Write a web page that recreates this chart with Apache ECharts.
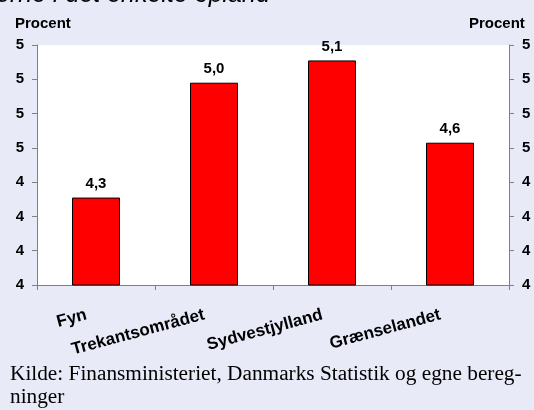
<!DOCTYPE html>
<html>
<head>
<meta charset="utf-8">
<script src="https://cdn.jsdelivr.net/npm/echarts@6/dist/echarts.min.js"></script>
<style>
  html, body { margin: 0; padding: 0; background: #e8eaf8; }
  #chart { width: 534px; height: 410px; }
</style>
</head>
<body>
<div id="chart"></div>
<script>
// data
const regions = ["Fyn", "Trekantsområdet", "Sydvestjylland", "Grænselandet"];
const rates = [4.31, 4.98, 5.11, 4.63];
const yTickLabels = ["4", "4", "4", "4", "5", "5", "5", "5"];
const yMin = 3.8;
const yMax = 5.2;
const yStep = 0.2;

const chart = echarts.init(document.getElementById("chart"));
const labelFont = { fontFamily: "Liberation Sans, Arial, sans-serif", fontWeight: "bold", fontSize: 15, color: "#000" };

const yAxisBase = {
  type: "value",
  min: yMin,
  max: yMax,
  interval: yStep,
  splitLine: { show: false },
  axisLine: { show: true, lineStyle: { color: "#808080", width: 1 } },
  axisTick: { show: true, inside: false, length: 5, lineStyle: { color: "#808080" } },
};

const option = {
  backgroundColor: "#e8eaf8",
  animation: false,
  graphic: [
    {
      type: "text",
      left: -4,
      top: -17,
      style: {
        text: "erne i det enkelte opland",
        font: "italic 25px Liberation Sans, Arial, sans-serif",
        fill: "#000",
      },
    },
    { type: "text", left: 15, top: 16, style: { text: "Procent", font: "bold 15px Liberation Sans, Arial, sans-serif", fill: "#000" } },
    { type: "text", left: 469, top: 16, style: { text: "Procent", font: "bold 15px Liberation Sans, Arial, sans-serif", fill: "#000" } },
    {
      type: "text",
      left: 10,
      top: 363,
      style: {
        text: "Kilde: Finansministeriet, Danmarks Statistik og egne bereg-\nninger",
        font: "21.3px Liberation Serif, Times New Roman, serif",
        lineHeight: 23,
        fill: "#000",
      },
    },
  ],
  grid: {
    left: 37,
    right: 25,
    top: 45,
    bottom: 125,
    show: true,
    backgroundColor: "#fff",
    borderWidth: 0,
  },
  xAxis: {
    type: "category",
    data: regions,
    boundaryGap: true,
    axisLine: { lineStyle: { color: "#808080", width: 1 } },
    axisTick: { show: true, alignWithLabel: false, length: 5, lineStyle: { color: "#808080" } },
    axisLabel: Object.assign({}, labelFont, { fontSize: 17, rotate: 15, margin: 27, interval: 0, padding: [0, 10, 0, 0] }),
  },
  yAxis: [
    Object.assign({}, yAxisBase, {
      position: "left",
      axisLabel: Object.assign({}, labelFont, { margin: 13, formatter: (v, i) => yTickLabels[i] }),
    }),
    Object.assign({}, yAxisBase, {
      position: "right",
      axisLabel: Object.assign({}, labelFont, { margin: 13, formatter: (v, i) => yTickLabels[i] }),
    }),
  ],
  series: [
    {
      type: "bar",
      data: rates,
      barWidth: 48,
      itemStyle: { color: "#ff0000", borderColor: "#000", borderWidth: 1 },
      label: Object.assign({}, labelFont, {
        show: true,
        position: "top",
        distance: 6,
        formatter: (p) => p.value.toFixed(1).replace(".", ","),
      }),
    },
  ],
};
chart.setOption(option);
</script>
</body>
</html>
